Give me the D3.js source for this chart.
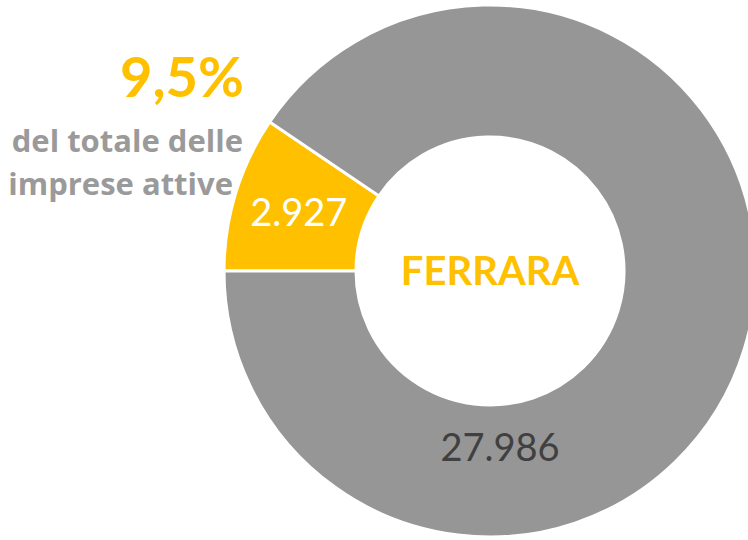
<!DOCTYPE html>
<html>
<head>
<meta charset="utf-8">
<script src="https://cdn.jsdelivr.net/npm/d3@7"></script>
<style>
  html, body { margin: 0; padding: 0; background: #fff; }
  svg { display: block; }
  text { font-family: Lato, "Open Sans", sans-serif; font-variant-ligatures: none; }
  text.caption { font-family: "Open Sans", Lato, sans-serif; }
</style>
</head>
<body>
<svg id="chart" width="748" height="540"></svg>
<script>
// Imprese attive in provincia di Ferrara
const categories = ["Settore", "Altre imprese"];
const values = [2927, 27986];
const colors = ["#FFC000", "#969696"];
const labelColors = ["#FFFFFF", "#404040"];
const city = "FERRARA";
const shareText = "9,5%";
const captionLines = ["del totale delle", "imprese attive"];

const svg = d3.select("#chart");
const cx = 490, cy = 271;
const outerR = 266, innerR = 134;

const fmt = d3.formatLocale({ decimal: ",", thousands: ".", grouping: [3], currency: ["€", ""] }).format(",d");

const pie = d3.pie().sort(null).value(d => d)
  .startAngle(-Math.PI / 2).endAngle(1.5 * Math.PI);
const arcs = pie(values);
const arc = d3.arc().innerRadius(innerR).outerRadius(outerR);

const g = svg.append("g").attr("transform", `translate(${cx},${cy})`);

g.selectAll("path.slice")
  .data(arcs)
  .join("path")
  .attr("class", "slice")
  .attr("d", arc)
  .attr("fill", (d, i) => colors[i])
  .attr("stroke", "#fff")
  .attr("stroke-width", 3)
  .attr("stroke-linejoin", "miter");

// value labels: the small slice at its centroid, the large one near the bottom of the ring
const labelArc = d3.arc().innerRadius(177).outerRadius(177);
g.selectAll("text.value")
  .data(arcs)
  .join("text")
  .attr("class", "value")
  .attr("transform", (d, i) => {
    if (i === 0) return `translate(${arc.centroid(d)})`;
    const a = Math.PI * 0.982;
    const p = labelArc.centroid({ startAngle: a, endAngle: a });
    return `translate(${p})`;
  })
  .attr("text-anchor", "middle")
  .attr("dy", "0.35em")
  .attr("font-size", 38)
  .attr("fill", (d, i) => labelColors[i])
  .text(d => fmt(d.value));

// city name in the hole
g.append("text")
  .attr("text-anchor", "middle")
  .attr("y", 0)
  .attr("dy", "0.36em")
  .attr("font-size", 40)
  .attr("font-weight", "bold")
  .attr("fill", colors[0])
  .text(city);

// share and caption on the left
svg.append("text")
  .attr("x", 244)
  .attr("y", 97)
  .attr("text-anchor", "end")
  .attr("font-size", 56)
  .attr("font-weight", "bold")
  .attr("fill", colors[0])
  .text(shareText);

svg.selectAll("text.caption")
  .data(captionLines)
  .join("text")
  .attr("class", "caption")
  .attr("x", (d, i) => i === 0 ? 243 : 233)
  .attr("y", (d, i) => 152 + i * 43)
  .attr("text-anchor", "end")
  .attr("font-size", 31)
  .attr("font-weight", "bold")
  .attr("fill", "#9A9A9A")
  .text(d => d);
</script>
</body>
</html>
